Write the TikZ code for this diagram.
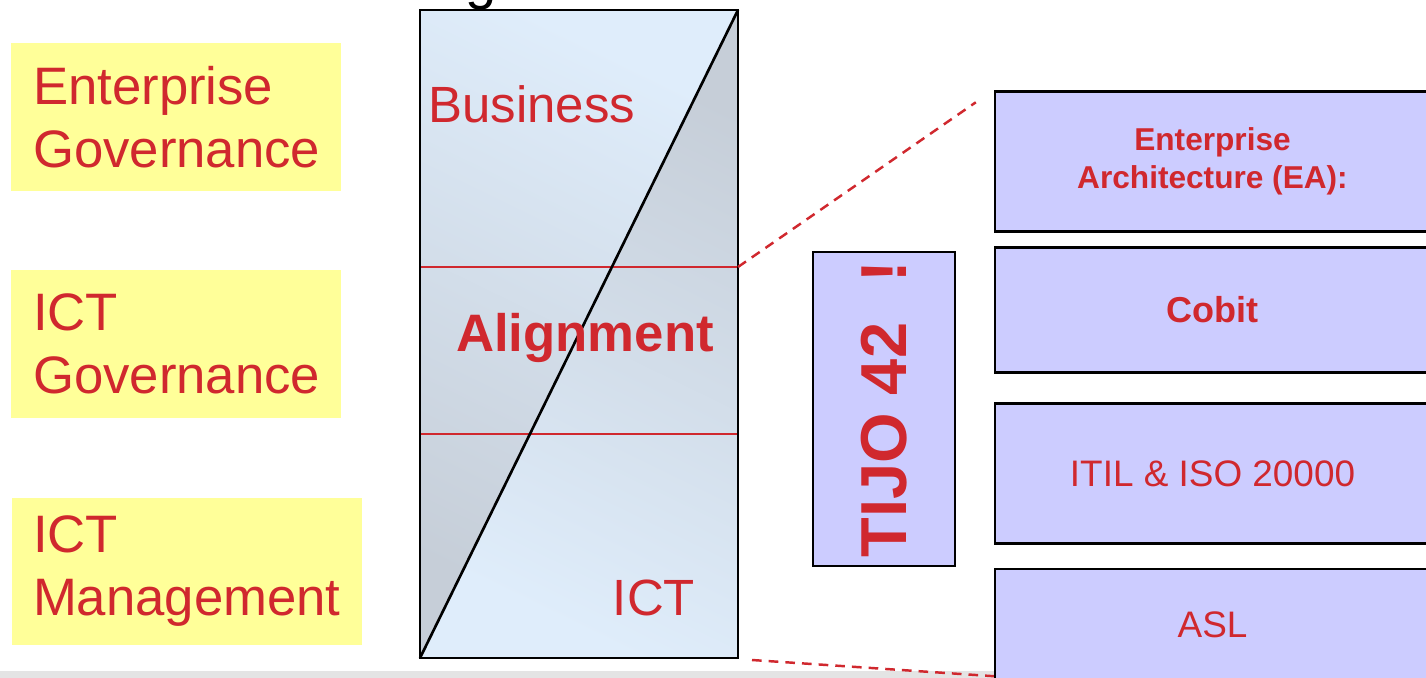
\documentclass[tikz,border=0pt]{standalone}
\usepackage{fontspec}
\setmainfont{Liberation Sans}
\usepackage{tikz}
\usetikzlibrary{calc}
\definecolor{tred}{HTML}{D0282E}
\definecolor{tyellow}{HTML}{FFFF99}
\definecolor{tpurple}{HTML}{CCCCFF}
\definecolor{tgrey}{HTML}{C6CED8}
\definecolor{tlight}{HTML}{DFEDFB}
\definecolor{tstrip}{HTML}{E4E4E4}
\tikzstyle{ybox} = [rectangle, fill = tyellow, text = tred, align = left, inner xsep = 0.44cm, text width = 5.72cm, minimum height = 2.96cm, font = \fontsize{30}{35.9}\selectfont]
\tikzstyle{pbox} = [rectangle, fill = tpurple, draw = black, line width = 1.4pt, text = tred, minimum width = 8.7cm, align = center]
\tikzstyle{ctext} = [text = tred, inner sep = 0pt, font = \fontsize{29}{34}\selectfont]
\tikzstyle{link} = [tred, line width = 1.4pt, dash pattern = on 5.5pt off 4pt]

\begin{document}
\begin{tikzpicture}[x=0.02cm, y=-0.02cm]
	\useasboundingbox (0,0) rectangle (1426,678);
	\fill[tstrip] (0,671) rectangle (1426,678);
	\node (T) [anchor=base, inner sep=0pt, font=\fontsize{32}{36}\selectfont] at (481,-1) {g};
	\node (EG) [ybox] at (176,117) {Enterprise\\Governance};
	\node (IG) [ybox] at (176,344) {ICT\\Governance};
	\node (IM) [ybox, text width=6.16cm, inner xsep=0.42cm, minimum height=2.94cm] at (187,571.5) {ICT\\Management};
	\coordinate (NW) at (420,10);
	\coordinate (NE) at (738,10);
	\coordinate (SW) at (420,658);
	\coordinate (SE) at (738,658);
	\shade[top color=tlight, bottom color=tgrey, shading angle=-26] (NW) -- (NE) -- (SW) -- cycle;
	\shade[top color=tgrey, bottom color=tlight, shading angle=-26] (NE) -- (SE) -- (SW) -- cycle;
	\coordinate (A1) at (420,267);
	\coordinate (B1) at (738,267);
	\coordinate (A2) at (420,434);
	\coordinate (B2) at (738,434);
	\draw[tred, line width=1.1pt] (A1) -- (B1) (A2) -- (B2);
	\draw[line width=1.5pt] (NW) rectangle (SE);
	\draw[line width=1.5pt] (SW) -- (NE);
	\node (Bus) [ctext, anchor=base west] at (428,123) {Business};
	\node (Al) [ctext, anchor=base, font=\fontsize{30}{36}\selectfont\bfseries] at (585,352) {Alignment};
	\node (ICT) [ctext, anchor=base] at (654,615) {ICT};
	\node (TIJO) [pbox, rotate=90, inner sep=2pt, minimum width=6.28cm, minimum height=2.84cm, font=\fontsize{37}{40}\selectfont\bfseries] at (884,409) {TIJO 42\hspace{0.35em} !};
	\node (EA) [pbox, minimum height=2.8cm, font=\fontsize{18}{21.6}\selectfont\bfseries] at (1212.5,161.5) {Enterprise\\Architecture (EA):};
	\node (CO) [pbox, minimum height=2.5cm, font=\fontsize{20.5}{24}\selectfont\bfseries] at (1212.5,310) {Cobit};
	\node (IT) [pbox, minimum height=2.8cm, font=\fontsize{21}{25}\selectfont] at (1212.5,473.5) {ITIL \& ISO 20000};
	\node (ASL) [pbox, minimum height=2.24cm, font=\fontsize{21}{25}\selectfont] at (1212.5,625) {ASL};
	%\draw[link] (B2) -- (IT);
	\draw[link] (B1) -- ($(EA.north west)+(-18,12)$);
	\draw[link] (752,660) -- ($(ASL.south west)+(0,-6)$);
\end{tikzpicture}
\end{document}
